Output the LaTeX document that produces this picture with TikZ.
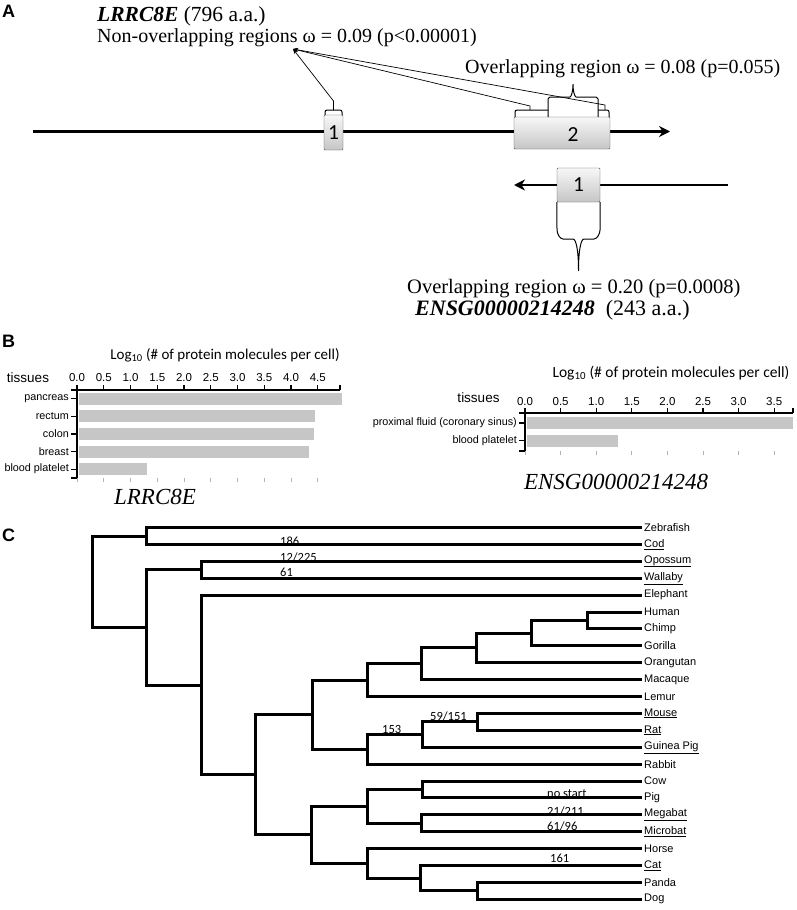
\documentclass[tikz,border=0pt]{standalone}
\usepackage{fontspec}
\setmainfont{Liberation Serif}
\newfontfamily\arialf{Liberation Sans}
\newfontfamily\calib{Carlito}
\usetikzlibrary{arrows.meta}

\begin{document}
\begin{tikzpicture}[x=1pt, y=-1pt,
  panel/.style={font=\arialf\bfseries\fontsize{18}{18}\selectfont, anchor=west, inner sep=0pt},
  seqtxt/.style={font=\fontsize{20}{22}\selectfont, inner sep=0pt, anchor=base west},
  exon/.style={draw=gray!65!black, top color=gray!6, bottom color=gray!45, rounded corners=1pt, font=\calib\fontsize{21.5}{21.5}\selectfont, inner sep=0pt},
  gene/.style={line width=2.6pt},
  genearr/.style={gene, -{Stealth[length=11pt, width=11pt]}},
  brk/.style={line width=1pt, rounded corners=2pt},
  callout/.style={line width=0.7pt, -{Stealth[length=5pt, width=4pt]}},
  axisl/.style={line width=1.2pt},
  bar/.style={fill=gray!45, draw=none},
  ticklbl/.style={font=\arialf\fontsize{11.5}{12}\selectfont, inner sep=0pt},
  tissue/.style={font=\arialf\fontsize{10.8}{11}\selectfont, anchor=east, inner sep=0pt},
  axtitle/.style={font=\calib\fontsize{15.5}{15.5}\selectfont, inner sep=0pt},
  tislbl/.style={font=\arialf\fontsize{13.5}{13.5}\selectfont, inner sep=0pt},
  gname/.style={font=\itshape\fontsize{23}{23}\selectfont, inner sep=0pt},
  br/.style={line width=3pt},
  leaf/.style={font=\arialf\fontsize{11}{11}\selectfont, anchor=west, inner sep=2pt},
  dnds/.style={font=\calib\fontsize{12.5}{12.5}\selectfont, inner sep=0pt, anchor=west}
]
\useasboundingbox (0,0) rectangle (797,910);

% panel A
\node[panel] (pa) at (2,11.5) {A};
\node[seqtxt, font=\fontsize{21.5}{22}\selectfont] (lrrc) at (97,21) {\textbf{\textit{LRRC8E}} (796 a.a.)};
\node[seqtxt] (nonov) at (97,42) {Non-overlapping regions ω = 0.09 (p<0.00001)};
\node[seqtxt] (ovtop) at (465,73) {Overlapping region ω = 0.08 (p=0.055)};
\node[seqtxt, font=\fontsize{20.5}{22}\selectfont] (ovbot) at (407,293) {Overlapping region ω = 0.20 (p=0.0008)};
\node[seqtxt, font=\fontsize{22}{22}\selectfont] (ensg) at (415,315) {\textbf{\textit{ENSG00000214248}}~~(243 a.a.)};

\coordinate (g1a) at (33,131.5);
\coordinate (g1b) at (670,131.5);
\coordinate (g2a) at (728,185);
\coordinate (g2b) at (514,185);
\draw[genearr] (g1a) -- (g1b);
\draw[genearr] (g2a) -- (g2b);

\node[exon, minimum width=19pt, minimum height=35pt] (ex1) at (333.5,132.5) {1};
\node[exon, minimum width=96pt, minimum height=32pt] (ex2) at (562,133) {};
\node[font=\calib\fontsize{21.5}{21.5}\selectfont, inner sep=0pt] (ex2lbl) at (573,135) {2};
\node[exon, minimum width=43pt, minimum height=34pt] (ex1r) at (578.5,185) {1};

% brackets on the exons
\draw[brk] (325,115) -- (325,110) -- (342,110) -- (342,115);
\draw[brk] (515,117) -- (515,110) -- (548,110);
\draw[brk] (598,110) -- (609,110) -- (609,117);
\draw[brk] (548,117) -- (548,101) to[out=90,in=180] (552,97) -- (568,97)
  .. controls (571,97) and (573,92) .. (573,83)
  .. controls (573,92) and (575,97) .. (578,97) -- (594,97)
  to[out=0,in=90] (598,101) -- (598,117);
\draw[brk] (ex1r.south west) -- (557,228) to[out=-90,in=180] (565,239) -- (571,239)
  .. controls (576,239) and (578.5,250) .. (578.5,272)
  .. controls (578.5,250) and (581,239) .. (586,239) -- (592,239)
  to[out=0,in=-90] (600,228) -- (ex1r.south east);

\coordinate (apt) at (293,49);
\coordinate (k1) at (333.5,110);
\coordinate (k2) at (530,110);
\coordinate (k3) at (605,110);
\draw[callout] (k1) -- (333.5,101) -- (apt);
\draw[callout] (k2) -- (530,106) -- (apt);
\draw[callout] (k3) -- (605,105) -- (apt);

% panel B
\node[panel] (pb) at (2,341.5) {B};
\node[axtitle, font=\calib\fontsize{15}{15}\selectfont] (ttl1) at (225,355) {Log\textsubscript{10} (\# of protein molecules per cell)};
\node[tislbl] (tis1) at (28,378) {tissues};
\begin{scope}[shift={(77,0)}]
  \foreach \k/\t in {0/0.0,1/0.5,2/1.0,3/1.5,4/2.0,5/2.5,6/3.0,7/3.5,8/4.0,9/4.5} {
    \draw[axisl] (\k*26.75,385) -- (\k*26.75,390);
    \draw[gray!60, line width=0.8pt] (\k*26.75,478) -- (\k*26.75,482);
    \node[ticklbl] (ta\k) at (\k*26.75,378) {\t};
  }
  \draw[axisl] (263,385) -- (263,390);
  \draw[axisl] (0,390) -- (263,390);
  \draw[axisl] (0,390) -- (0,478);
  \draw[axisl] (-6,390) -- (0,390);
  \draw[axisl] (-6,478) -- (0,478);
  \foreach \nm/\lab/\v/\yy in {pan/pancreas/4.95/398.8, rec/rectum/4.45/416.4, col/colon/4.43/434, bre/breast/4.34/451.6, bpl/blood platelet/1.31/469.2} {
    \fill[bar] (1.5,\yy-6) rectangle (\v*53.5,\yy+6);
    \draw[axisl] (-6,\yy) -- (0,\yy);
    \node[tissue] (\nm) at (-8,\yy) {\lab};
  }
\end{scope}
\node[gname] (gn1) at (155,497) {LRRC8E};

\node[axtitle] (ttl2) at (671,373) {Log\textsubscript{10} (\# of protein molecules per cell)};
\node[tislbl] (tis2) at (478.5,398) {tissues};
\begin{scope}[shift={(525,0)}]
  \foreach \k/\t in {0/0.0,1/0.5,2/1.0,3/1.5,4/2.0,5/2.5,6/3.0,7/3.5} {
    \draw[axisl] (\k*35.6,408) -- (\k*35.6,413);
    \draw[gray!60, line width=0.8pt] (\k*35.6,451) -- (\k*35.6,455);
    \node[ticklbl] (tb\k) at (\k*35.6,402) {\t};
  }
  \draw[axisl] (268,408) -- (268,413);
  \draw[axisl] (0,413) -- (268,413);
  \draw[axisl] (0,413) -- (0,451);
  \draw[axisl] (-6,413) -- (0,413);
  \draw[axisl] (-6,451) -- (0,451);
  \foreach \nm/\lab/\v/\yy in {prx/proximal fluid (coronary sinus)/3.76/423, bpr/blood platelet/1.31/440.5} {
    \fill[bar] (1.5,\yy-6) rectangle (\v*71.2,\yy+6);
    \draw[axisl] (-6,\yy) -- (0,\yy);
    \node[tissue] (\nm) at (-8,\yy) {\lab};
  }
\end{scope}
\node[gname] (gn2) at (616,482) {ENSG00000214248};

% panel C
\node[panel] (pc) at (2,535) {C};
\foreach \nm/\lab [count=\i from 0] in {zeb/Zebrafish, cod/\underline{Cod}, opo/\underline{Opossum},
    wal/\underline{Wallaby}, ele/Elephant, hum/Human, chi/Chimp, gor/Gorilla, ora/Orangutan,
    mac/Macaque, lem/Lemur, mou/\underline{Mouse}, rat/\underline{Rat}, gpg/\underline{Guinea Pig},
    rab/Rabbit, cow/Cow, pig/Pig, meg/\underline{Megabat}, mic/\underline{Microbat}, hor/Horse,
    ct/\underline{Cat}, pan/Panda, dog/Dog}
  \node[leaf] (\nm) at (642,527.5+16.9*\i) {\lab};

\coordinate (root) at (92,581.7);
\coordinate (fish) at (146,536);
\coordinate (mam) at (146,627.4);
\coordinate (mars) at (201,569.8);
\coordinate (eut) at (201,685);
\coordinate (bor) at (255,774.8);
\coordinate (eua) at (312,714.7);
\coordinate (pri) at (367,680.1);
\coordinate (ctr) at (421,663.8);
\coordinate (hmd) at (476,647.9);
\coordinate (hom) at (531,633.1);
\coordinate (hc) at (587,620.45);
\coordinate (gli) at (367,749.3);
\coordinate (rod) at (422,734.5);
\coordinate (mr) at (477,721.9);
\coordinate (lau) at (311,834.9);
\coordinate (cet) at (367,806.4);
\coordinate (cp) at (422,789.5);
\coordinate (bat) at (421,823.3);
\coordinate (hcar) at (367,863.4);
\coordinate (car) at (420,878.2);
\coordinate (pd) at (477,890.9);

\foreach \p/\c in {root/fish, root/mam, fish/zeb.west, fish/cod.west, mam/mars, mam/eut,
    mars/opo.west, mars/wal.west, eut/ele.west, eut/bor, bor/eua, bor/lau,
    eua/pri, eua/gli, pri/ctr, pri/lem.west, ctr/hmd, ctr/mac.west,
    hmd/hom, hmd/ora.west, hom/hc, hom/gor.west, hc/hum.west, hc/chi.west,
    gli/rod, gli/rab.west, rod/mr, rod/gpg.west, mr/mou.west, mr/rat.west,
    lau/cet, lau/hcar, cet/cp, cet/bat, cp/cow.west, cp/pig.west,
    bat/meg.west, bat/mic.west, hcar/hor.west, hcar/car, car/ct.west, car/pd,
    pd/pan.west, pd/dog.west}
  \draw[br] (\p) |- (\c);

\node[dnds] (w186) at (280,541) {186};
\node[dnds] (w12) at (280,557) {12/225};
\node[dnds] (w61) at (280,572) {61};
\node[dnds] (w153) at (382,729) {153};
\node[dnds] (w59) at (430,716) {59/151};
\node[dnds] (wns) at (547,794) {no start};
\node[dnds] (w21) at (547,811) {21/211};
\node[dnds] (w6196) at (547,826) {61/96};
\node[dnds] (w161) at (550,858) {161};

\end{tikzpicture}
\end{document}
